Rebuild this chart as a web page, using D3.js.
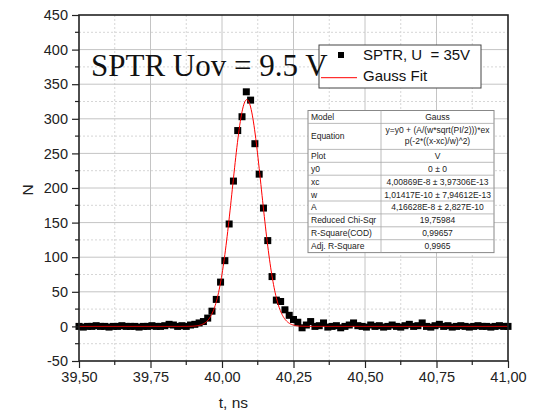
<!DOCTYPE html>
<html>
<head>
    <meta charset="utf-8">
    <title>SPTR Gauss fit</title>
    <style>
        body { margin: 0; background: #fff; }
        text { font-family: "Liberation Sans", Arial, sans-serif; }
    </style>
    <script src="https://d3js.org/d3.v7.min.js"></script>
</head>
<body>
    <div id="chart"></div>

    <script>
// measured points (time in ns, counts)
var times = [
    39.500, 39.515, 39.530, 39.545, 39.560, 39.575, 39.590, 39.605, 39.620, 39.635,
    39.650, 39.665, 39.680, 39.695, 39.710, 39.725, 39.740, 39.755, 39.770, 39.785,
    39.800, 39.815, 39.830, 39.845, 39.860, 39.875, 39.890, 39.905, 39.920, 39.935,
    39.950, 39.965, 39.980, 39.995, 40.010, 40.025, 40.040, 40.055, 40.070, 40.085,
    40.100, 40.115, 40.130, 40.145, 40.160, 40.175, 40.190, 40.205, 40.220, 40.235,
    40.250, 40.265, 40.280, 40.295, 40.310, 40.325, 40.340, 40.355, 40.370, 40.385,
    40.400, 40.415, 40.430, 40.445, 40.460, 40.475, 40.490, 40.505, 40.520, 40.535,
    40.550, 40.565, 40.580, 40.595, 40.610, 40.625, 40.640, 40.655, 40.670, 40.685,
    40.700, 40.715, 40.730, 40.745, 40.760, 40.775, 40.790, 40.805, 40.820, 40.835,
    40.850, 40.865, 40.880, 40.895, 40.910, 40.925, 40.940, 40.955, 40.970, 40.985,
    41.000
];
var counts = [
    0, -1, 0, 0, 1, 0, 0, -1, 0, 0,
    1, 0, 0, 0, -1, 0, 0, 1, 0, 0,
    1, 3, 2, 0, 1, 0, 2, 3, 5, 7,
    12, 22, 39, 64, 95, 148, 210, 283, 303, 339,
    327, 264, 220, 171, 124, 72, 38, 36, 24, 16,
    10, 6, -2, 2, 7, 0, 1, 5, -1, 0,
    1, -2, 0, 2, 5, 1, 0, -1, 2, 0,
    1, -1, 0, 2, 0, -1, 1, 3, 0, 1,
    5, 0, -1, 1, 3, 0, 1, -1, 0, 1,
    0, -1, 0, 1, 0, 0, -1, 0, 1, 0,
    0
];

// Gauss fit parameters (ns units)
var fitY0 = 0;
var fitXc = 40.0869;
var fitW = 0.101417;
var fitA = 41.6628;

// axes
var xTicks = [39.50, 39.75, 40.00, 40.25, 40.50, 40.75, 41.00];
var yTicks = [-50, 0, 50, 100, 150, 200, 250, 300, 350, 400, 450];

// fit table
var tableRows = [
    ['Model', 'Gauss'],
    ['Equation', 'y=y0 + (A/(w*sqrt(PI/2)))*ex|p(-2*((x-xc)/w)^2)'],
    ['Plot', 'V'],
    ['y0', '0 \u00b1 0'],
    ['xc', '4,00869E-8 \u00b1 3,97306E-13'],
    ['w', '1,01417E-10 \u00b1 7,94612E-13'],
    ['A', '4,16628E-8 \u00b1 2,827E-10'],
    ['Reduced Chi-Sqr', '19,75984'],
    ['R-Square(COD)', '0,99657'],
    ['Adj. R-Square', '0,9965']
];

var W = 539, H = 413;
var margin = { top: 15, right: 31, bottom: 52, left: 79 };
var width = W - margin.left - margin.right;
var height = H - margin.top - margin.bottom;

var svg = d3.select('#chart').append('svg')
    .attr('width', W)
    .attr('height', H);

var g = svg.append('g')
    .attr('transform', 'translate(' + margin.left + ',' + margin.top + ')');

var x = d3.scaleLinear().domain([39.5, 41]).range([0, width]);
var y = d3.scaleLinear().domain([-50, 450]).range([height, 0]);

// grid: minor dotted, major solid
var xMinor = d3.range(39.625, 41, 0.25);
var yMinor = d3.range(-25, 450, 50);

g.selectAll('.xminor').data(xMinor).enter().append('line')
    .attr('x1', d => x(d)).attr('x2', d => x(d))
    .attr('y1', 0).attr('y2', height)
    .attr('stroke', '#d6d6d6').attr('stroke-dasharray', '2,2');
g.selectAll('.yminor').data(yMinor).enter().append('line')
    .attr('x1', 0).attr('x2', width)
    .attr('y1', d => y(d)).attr('y2', d => y(d))
    .attr('stroke', '#d6d6d6').attr('stroke-dasharray', '2,2');
g.selectAll('.xmajor').data(xTicks.slice(1, -1)).enter().append('line')
    .attr('x1', d => x(d)).attr('x2', d => x(d))
    .attr('y1', 0).attr('y2', height)
    .attr('stroke', '#c4c4c4');
g.selectAll('.ymajor').data(yTicks.slice(1, -1)).enter().append('line')
    .attr('x1', 0).attr('x2', width)
    .attr('y1', d => y(d)).attr('y2', d => y(d))
    .attr('stroke', '#c4c4c4');

// data squares
var pts = times.map((t, i) => ({ t: t, n: counts[i] }));
g.selectAll('rect.pt').data(pts).enter().append('rect')
    .attr('class', 'pt')
    .attr('x', d => x(d.t) - 3.5)
    .attr('y', d => y(d.n) - 3.5)
    .attr('width', 7).attr('height', 7)
    .attr('fill', '#000');

// fit curve
var fitT = d3.range(39.5, 41.0001, 0.002);
var gauss = t => fitY0 + (fitA / (fitW * Math.sqrt(Math.PI / 2))) *
    Math.exp(-2 * Math.pow((t - fitXc) / fitW, 2));
g.append('path')
    .datum(fitT)
    .attr('fill', 'none')
    .attr('stroke', '#ff0000')
    .attr('stroke-width', 1)
    .attr('d', d3.line().x(d => x(d)).y(d => y(gauss(d))));

// axes
var fmtX = d => d.toFixed(2).replace('.', ',');
var fmtY = d => String(d);
var xAxis = d3.axisBottom(x).tickValues(xTicks).tickFormat(fmtX).tickSize(7).tickPadding(4);
var yAxis = d3.axisLeft(y).tickValues(yTicks).tickFormat(fmtY).tickSize(7).tickPadding(4);

var gx = g.append('g').attr('transform', 'translate(0,' + height + ')').call(xAxis);
var gy = g.append('g').call(yAxis);
[gx, gy].forEach(a => {
    a.select('.domain').remove();
    a.selectAll('line').attr('stroke', '#222').attr('stroke-width', 1.2);
    a.selectAll('text').attr('font-size', '14.5px').attr('fill', '#222')
        .style('font-family', '"Liberation Sans", Arial, sans-serif');
});

// minor ticks
g.selectAll('.xmt').data(xMinor).enter().append('line')
    .attr('x1', d => x(d)).attr('x2', d => x(d))
    .attr('y1', height).attr('y2', height + 4)
    .attr('stroke', '#222').attr('stroke-width', 1.2);
g.selectAll('.ymt').data(yMinor).enter().append('line')
    .attr('x1', -4).attr('x2', 0)
    .attr('y1', d => y(d)).attr('y2', d => y(d))
    .attr('stroke', '#222').attr('stroke-width', 1.2);

// frame
g.append('rect')
    .attr('x', 0).attr('y', 0)
    .attr('width', width).attr('height', height)
    .attr('fill', 'none')
    .attr('stroke', '#222').attr('stroke-width', 1.6);

// axis titles
svg.append('text')
    .attr('x', margin.left + x(40.04)).attr('y', 408)
    .attr('text-anchor', 'middle')
    .attr('font-size', '15.5px').attr('fill', '#222')
    .text('t, ns');
svg.append('text')
    .attr('transform', 'translate(33,190) rotate(-90)')
    .attr('text-anchor', 'middle')
    .attr('font-size', '15.5px').attr('fill', '#222')
    .text('N');

// legend
var lg = svg.append('g').attr('transform', 'translate(319,45)');
lg.append('rect')
    .attr('width', 162).attr('height', 43)
    .attr('fill', '#fff').attr('stroke', '#444').attr('stroke-width', 1);
lg.append('rect')
    .attr('x', 19).attr('y', 7).attr('width', 6).attr('height', 6)
    .attr('fill', '#000');
lg.append('text')
    .attr('x', 44).attr('y', 15)
    .attr('font-size', '15px').attr('fill', '#111')
    .attr('xml:space', 'preserve')
    .text('SPTR, U  = 35V');
lg.append('line')
    .attr('x1', 2).attr('x2', 38).attr('y1', 32.7).attr('y2', 32.7)
    .attr('stroke', '#ff0000').attr('stroke-width', 1);
lg.append('text')
    .attr('x', 44).attr('y', 36)
    .attr('font-size', '15px').attr('fill', '#111')
    .text('Gauss Fit');

// big title inside plot
svg.append('text')
    .attr('x', 91).attr('y', 76)
    .attr('font-size', '31px').attr('fill', '#111')
    .style('font-family', '"Liberation Serif", "Times New Roman", serif')
    .text('SPTR Uov = 9.5 V');

// fit table
var tx = 308, ty = 110.5, tw = 186, col = 73;
var rowH = tableRows.map(r => r[1].indexOf('|') >= 0 ? 26 : 12.9);
var tb = svg.append('g').attr('transform', 'translate(' + tx + ',' + ty + ')');
var totalH = d3.sum(rowH);
tb.append('rect')
    .attr('width', tw).attr('height', totalH)
    .attr('fill', '#fff').attr('stroke', '#888').attr('stroke-width', 1);
var yy = 0;
tableRows.forEach((r, i) => {
    var h = rowH[i];
    if (i > 0) {
        tb.append('line').attr('x1', 0).attr('x2', tw).attr('y1', yy).attr('y2', yy)
            .attr('stroke', '#aaa').attr('stroke-width', 0.8);
    }
    tb.append('text')
        .attr('x', 3).attr('y', yy + h / 2 + 3)
        .attr('font-size', '8.5px').attr('fill', '#222')
        .text(r[0]);
    var parts = r[1].split('|');
    parts.forEach((p, k) => {
        tb.append('text')
            .attr('x', col + (tw - col) / 2)
            .attr('y', yy + (parts.length > 1 ? 9.5 + k * 11 : h / 2 + 3))
            .attr('text-anchor', 'middle')
            .attr('font-size', '8.5px').attr('fill', '#222')
            .text(p);
    });
    yy += h;
});
tb.append('line').attr('x1', col).attr('x2', col).attr('y1', 0).attr('y2', totalH)
    .attr('stroke', '#aaa').attr('stroke-width', 0.8);
    </script>
</body>
</html>
